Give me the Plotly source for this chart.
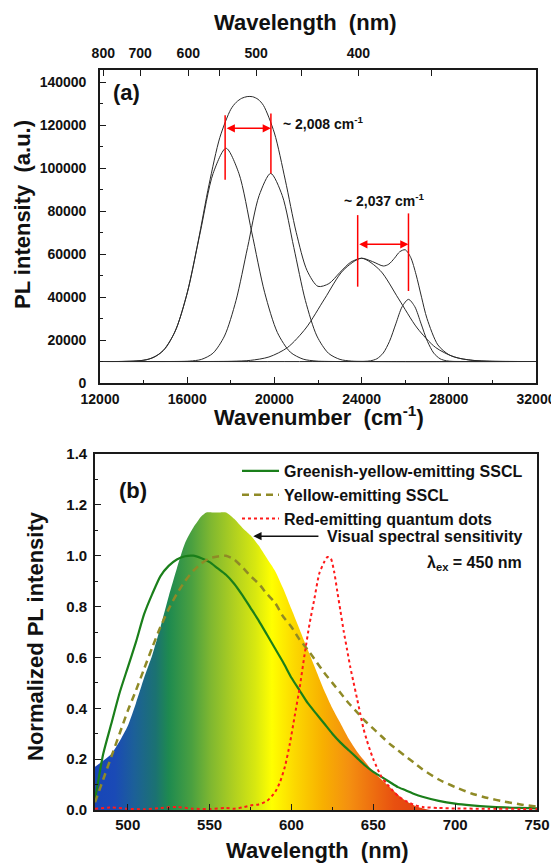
import plotly.graph_objects as go

W, H = 559, 863
OX, OY = 8, 8   # page body margin of the written html
FONT = "Liberation Sans, Arial, sans-serif"

# ---------------- Panel (a): Gaussian components ----------------
comp1_x = [12000, 13060, 13650, 14240, 14830, 15420, 16010, 16600, 17190, 17780, 18370, 18960, 19550, 20140, 20730, 21320, 21910, 22500, 32000]
comp1_y = [10000, 10030, 10220, 11100, 14360, 23420, 42210, 70170, 97540, 109200, 97540, 70170, 42210, 23420, 14360, 11100, 10220, 10030, 10000]
comp2_x = [12000, 15590, 16120, 16650, 17180, 17710, 18240, 18770, 19300, 19830, 20360, 20890, 21420, 21950, 22480, 23010, 23540, 24070, 32000]
comp2_y = [10000, 10030, 10190, 10970, 13840, 21840, 38410, 63070, 87220, 97500, 87220, 63070, 38410, 21840, 13840, 10970, 10190, 10030, 10000]
comp3_x = [12000, 17200, 18050, 18900, 19750, 20600, 21450, 22300, 23150, 24000, 24850, 25700, 26550, 27400, 28250, 29100, 29950, 30800, 32000]
comp3_y = [10000, 10010, 10110, 10530, 12110, 16490, 25590, 39110, 52360, 58000, 52360, 39110, 25590, 16490, 12110, 10530, 10110, 10010, 10000]
comp4_x = [12000, 23830, 24120, 24410, 24700, 24990, 25280, 25570, 25860, 26150, 26440, 26730, 27020, 27310, 27600, 27890, 28180, 28470, 32000]
comp4_y = [10000, 10010, 10060, 10320, 11270, 13910, 19380, 27530, 35500, 38900, 35500, 27530, 19380, 13910, 11270, 10320, 10060, 10010, 10000]
envelope_x = [12000, 13000, 14000, 14500, 15000, 15500, 16000, 16500, 17000, 17500, 18000, 18250, 18500, 18750, 19000,
              19250, 19500, 20000, 20500, 21000, 21500, 22000, 22500, 23000, 23500, 24000, 24500, 25000, 25250, 25500,
              25750, 26000, 26250, 26500, 26750, 27000, 27500, 28000, 28500, 29000, 29500, 30000, 31000, 32000]
envelope_y = [10000, 10030, 10590, 12080, 16180, 25370, 41940, 65710, 92220, 114280, 127300, 130600, 132430, 133230, 133170,
              131960, 129090, 116290, 94370, 70100, 52260, 44950, 46230, 51370, 56190, 58070, 56480, 54420, 55300, 57950,
              61050, 61970, 58460, 50370, 39900, 29980, 17700, 13190, 11450, 10640, 10260, 10100, 10010, 10000]

# red splitting markers (wavenumber positions, y-extents) and labels
split_left_x = [17740, 19840]
split_left_ybot = [94500, 97500]
split_left_ytop = [124600, 125400]
split_left_arrow_y = 118500
split_right_x = [23820, 26150]
split_right_ybot = [44800, 42800]
split_right_ytop = [78100, 78900]
split_right_arrow_y = 64500
split_labels = ["~ 2,008 cm<sup>-1</sup>", "~ 2,037 cm<sup>-1</sup>"]

# top (wavelength) axis tick positions in wavenumber units, as placed in the picture
top_tick_pos = [12150, 13840, 16050, 17500, 19160, 21250, 23850, 27220]
top_tick_text = ["800", "700", "600", "", "500", "", "400", ""]

# ---------------- Panel (b): spectra ----------------
sens_wl = [480, 490, 495, 500, 505, 510, 515, 520, 525, 530, 535, 540, 545, 548, 552, 556, 560, 565, 570, 575, 580, 585,
           590, 595, 600, 605, 610, 615, 620, 625, 630, 635, 640, 645, 650, 655, 660, 665, 670, 675, 680, 685]
sens_val = [0.17, 0.22, 0.27, 0.33, 0.42, 0.52, 0.61, 0.72, 0.84, 0.95, 1.05, 1.11, 1.155, 1.17, 1.17, 1.17, 1.17, 1.145,
            1.11, 1.08, 1.04, 0.99, 0.94, 0.87, 0.79, 0.71, 0.63, 0.55, 0.47, 0.40, 0.34, 0.28, 0.23, 0.19, 0.15, 0.12,
            0.09, 0.06, 0.035, 0.018, 0.007, 0.0]

green_wl = [480, 485, 490, 495, 500, 505, 510, 515, 520, 525, 530, 535, 540, 545, 550, 555, 560, 565, 570, 575, 580, 585,
            590, 595, 600, 605, 610, 615, 620, 625, 630, 635, 640, 645, 650, 655, 660, 665, 670, 675, 680, 690, 700, 710,
            720, 730, 740, 750]
green_val = [0.04, 0.22, 0.34, 0.46, 0.56, 0.66, 0.77, 0.85, 0.92, 0.96, 0.985, 0.998, 1.0, 0.99, 0.975, 0.95, 0.925,
             0.89, 0.845, 0.795, 0.745, 0.69, 0.635, 0.58, 0.52, 0.47, 0.42, 0.38, 0.34, 0.30, 0.265, 0.235, 0.205,
             0.175, 0.15, 0.13, 0.11, 0.09, 0.077, 0.063, 0.052, 0.036, 0.025, 0.018, 0.013, 0.01, 0.008, 0.006]

yellow_wl = [480, 485, 490, 495, 500, 505, 510, 515, 520, 525, 530, 535, 540, 545, 550, 555, 560, 565, 570, 575, 580, 585,
             590, 595, 600, 605, 610, 615, 620, 625, 630, 635, 640, 645, 650, 655, 660, 665, 670, 675, 680, 690, 700, 710,
             720, 730, 740, 750]
yellow_val = [0.03, 0.12, 0.21, 0.30, 0.39, 0.47, 0.555, 0.64, 0.72, 0.79, 0.85, 0.90, 0.94, 0.97, 0.99, 0.997, 1.0,
              0.985, 0.955, 0.92, 0.89, 0.85, 0.815, 0.76, 0.72, 0.67, 0.63, 0.585, 0.54, 0.50, 0.46, 0.42, 0.385, 0.35,
              0.32, 0.29, 0.26, 0.235, 0.21, 0.185, 0.16, 0.12, 0.09, 0.065, 0.047, 0.033, 0.022, 0.013]

red_wl = [480, 490, 500, 510, 520, 530, 540, 550, 560, 565, 570, 575, 580, 585, 590, 593, 596, 599, 602, 605, 608, 611,
          614, 617, 620, 622, 624, 626, 628, 630, 632, 634, 636, 638, 640, 642, 644, 646, 648, 650, 652, 655, 658, 662,
          666, 670, 675, 680, 690, 700, 720, 750]
red_val = [0.005, 0.01, 0.005, 0.003, 0.008, 0.012, 0.005, 0.004, 0.008, 0.005, 0.01, 0.018, 0.022, 0.035, 0.07, 0.11,
           0.17, 0.26, 0.37, 0.48, 0.61, 0.73, 0.83, 0.93, 0.975, 0.995, 0.99, 0.94, 0.86, 0.78, 0.70, 0.63, 0.56, 0.50,
           0.44, 0.38, 0.32, 0.275, 0.235, 0.20, 0.17, 0.13, 0.105, 0.075, 0.05, 0.035, 0.02, 0.012, 0.008, 0.006,
           0.005, 0.004]

series_names = ["Greenish-yellow-emitting SSCL", "Yellow-emitting SSCL", "Red-emitting quantum dots"]

# colours of the visual-sensitivity gradient (wavelength, colour)
grad_wl = [480, 492, 504, 517, 525, 539, 551, 565, 578, 588, 602, 619, 635, 649, 663, 685]
grad_col = ["#1846b8", "#1a4ab6", "#1c6098", "#1b7272", "#1e8a50", "#4aa040", "#80b830", "#b0d020", "#d8e810",
            "#ffff00", "#fcd800", "#f8b000", "#f49010", "#ee7010", "#e85010", "#e03a10"]

# ---------------- helpers for pixel-based layout (window pixels -> paper) ----------------
def px(x):
    return (x - OX) / W

def py(y):
    return 1 - (y - OY) / H

fig = go.Figure()

# panel (a) curves
for cx, cy in [(comp1_x, comp1_y), (comp2_x, comp2_y), (comp3_x, comp3_y), (comp4_x, comp4_y), (envelope_x, envelope_y)]:
    fig.add_trace(go.Scatter(x=cx, y=cy, mode="lines", xaxis="x", yaxis="y",
                             line=dict(color="#2a2a2a", width=1, shape="spline", smoothing=0.8),
                             showlegend=False, hoverinfo="skip"))
# invisible trace to carry the top wavelength axis
fig.add_trace(go.Scatter(x=[12000, 32000], y=[0, 0], mode="lines", xaxis="x3", yaxis="y",
                         line=dict(color="rgba(0,0,0,0)", width=0), showlegend=False, hoverinfo="skip"))

# panel (b)
g0, g1 = grad_wl[0], grad_wl[-1]
colorscale = [[(w - g0) / (g1 - g0), c] for w, c in zip(grad_wl, grad_col)]
fig.add_trace(go.Scatter(x=sens_wl, y=sens_val, mode="lines", xaxis="x2", yaxis="y2",
                         line=dict(width=0, color="rgba(0,0,0,0)", shape="spline", smoothing=0.6),
                         fill="tozeroy",
                         fillgradient=dict(type="horizontal", start=g0, stop=g1, colorscale=colorscale),
                         showlegend=False, hoverinfo="skip"))
fig.add_trace(go.Scatter(x=green_wl, y=green_val, mode="lines", xaxis="x2", yaxis="y2", name=series_names[0],
                         line=dict(color="#1a7f1a", width=2.2, shape="spline", smoothing=0.6)))
fig.add_trace(go.Scatter(x=yellow_wl, y=yellow_val, mode="lines", xaxis="x2", yaxis="y2", name=series_names[1],
                         line=dict(color="#8f8a26", width=2.5, dash="7px,5px", shape="spline", smoothing=0.6)))
fig.add_trace(go.Scatter(x=red_wl, y=red_val, mode="lines", xaxis="x2", yaxis="y2", name=series_names[2],
                         line=dict(color="#ff1a1a", width=2, dash="dot", shape="spline", smoothing=0.6)))

axis_common = dict(showline=True, linecolor="#1a1a1a", linewidth=1.6, mirror=True, ticks="inside",
                   tickcolor="#1a1a1a", tickwidth=1.4, showgrid=False, zeroline=False, automargin=False)

shapes = []
annotations = []

# red split markers
for xs, yb, yt, yarr, lab, lx, ly, anchor in [
        (split_left_x, split_left_ybot, split_left_ytop, split_left_arrow_y, split_labels[0], 20300, 121000, "left"),
        (split_right_x, split_right_ybot, split_right_ytop, split_right_arrow_y, split_labels[1], 25030, 85100, "center")]:
    for xv, b, t in zip(xs, yb, yt):
        shapes.append(dict(type="line", xref="x", yref="y", x0=xv, x1=xv, y0=b, y1=t,
                           line=dict(color="#ff0000", width=1.5)))
    annotations.append(dict(x=xs[1], y=yarr, ax=xs[0], ay=yarr, xref="x", yref="y", axref="x", ayref="y",
                            text="", showarrow=True, arrowside="end+start", arrowhead=2, startarrowhead=2,
                            arrowsize=1.1, startarrowsize=1.1, arrowwidth=1.5, arrowcolor="#ff0000"))
    annotations.append(dict(x=lx, y=ly, xref="x", yref="y", text=lab, showarrow=False, xanchor=anchor,
                            yanchor="middle", font=dict(family=FONT, size=14, color="#111", weight="bold")))

# panel labels
annotations.append(dict(x=px(111), y=py(92), xref="paper", yref="paper", text="(a)", showarrow=False,
                        xanchor="left", yanchor="middle", font=dict(family=FONT, size=22, color="#111", weight="bold")))
annotations.append(dict(x=px(117), y=py(490), xref="paper", yref="paper", text="(b)", showarrow=False,
                        xanchor="left", yanchor="middle", font=dict(family=FONT, size=22, color="#111", weight="bold")))

# axis titles
title_font = dict(family=FONT, size=22, color="#111", weight="bold")
annotations += [
    dict(x=px(305), y=py(22), xref="paper", yref="paper", text="Wavelength  (nm)", showarrow=False,
         xanchor="center", yanchor="middle", font=title_font),
    dict(x=px(319), y=py(416), xref="paper", yref="paper", text="Wavenumber  (cm<sup>-1</sup>)", showarrow=False,
         xanchor="center", yanchor="middle", font=title_font),
    dict(x=px(23), y=py(215), xref="paper", yref="paper", text="PL intensity  (a.u.)", showarrow=False,
         textangle=-90, xanchor="center", yanchor="middle", font=title_font),
    dict(x=px(35), y=py(636), xref="paper", yref="paper", text="Normalized PL intensity", showarrow=False,
         textangle=-90, xanchor="center", yanchor="middle", font=title_font),
    dict(x=px(317), y=py(850), xref="paper", yref="paper", text="Wavelength  (nm)", showarrow=False,
         xanchor="center", yanchor="middle", font=title_font),
]

# visual sensitivity pointer + excitation note
annotations.append(dict(x=576.7, y=1.077, xref="x2", yref="y2", ax=617.4, ay=1.077, axref="x2", ayref="y2",
                        text="", showarrow=True, arrowhead=2, arrowsize=1.1, arrowwidth=1.5, arrowcolor="#111"))
annotations.append(dict(x=620.5, y=1.077, xref="x2", yref="y2", text="Visual spectral sensitivity", showarrow=False,
                        xanchor="left", yanchor="middle",
                        font=dict(family=FONT, size=16, color="#111", weight="bold")))
annotations.append(dict(x=px(425), y=py(563), xref="paper", yref="paper",
                        text="λ<sub>ex</sub> = 450 nm", showarrow=False, xanchor="left", yanchor="middle",
                        font=dict(family=FONT, size=16, color="#111", weight="bold")))

fig.update_layout(
    width=W, height=H, margin=dict(l=0, r=0, t=0, b=0, autoexpand=False),
    paper_bgcolor="white", plot_bgcolor="white",
    font=dict(family=FONT, color="#111", weight="bold"),
    xaxis=dict(domain=[px(100), px(536)], anchor="y", range=[12000, 32000], tickvals=list(range(12000, 32001, 4000)),
               tickformat="d",
               minor=dict(dtick=2000, ticks="inside", ticklen=3, tickcolor="#1a1a1a"), ticklen=6,
               tickfont=dict(family=FONT, size=14, weight="bold", color="#111"), ticklabelstandoff=2,
               **axis_common),
    xaxis3=dict(overlaying="x", side="top", anchor="y", range=[12000, 32000], tickvals=top_tick_pos,
                ticktext=top_tick_text, ticks="inside", ticklen=6, tickcolor="#1a1a1a", tickwidth=1.4,
                showline=False, showgrid=False, zeroline=False, ticklabelstandoff=8, automargin=False,
                tickfont=dict(family=FONT, size=14, weight="bold", color="#111")),
    yaxis=dict(domain=[py(383), py(70)], anchor="x", range=[0, 145600], tickvals=list(range(0, 140001, 20000)),
               tickformat="d", minor=dict(dtick=10000, ticks="inside", ticklen=3, tickcolor="#1a1a1a"), ticklen=6,
               tickfont=dict(family=FONT, size=14, weight="bold", color="#111"), ticklabelstandoff=9,
               **axis_common),
    xaxis2=dict(domain=[px(95), px(537)], anchor="y2", range=[480, 750], tickvals=list(range(500, 751, 50)),
                minor=dict(dtick=25, ticks="inside", ticklen=3, tickcolor="#1a1a1a"), ticklen=6,
                tickfont=dict(family=FONT, size=15, weight="bold", color="#111"), ticklabelstandoff=0,
                **axis_common),
    yaxis2=dict(domain=[py(810), py(454)], anchor="x2", range=[0, 1.4], tickvals=[0, 0.2, 0.4, 0.6, 0.8, 1.0, 1.2, 1.4],
                tickformat=".1f", minor=dict(dtick=0.1, ticks="inside", ticklen=3, tickcolor="#1a1a1a"), ticklen=6,
                tickfont=dict(family=FONT, size=15, weight="bold", color="#111"), ticklabelstandoff=3,
                **axis_common),
    legend=dict(x=px(237), y=py(454), xanchor="left", yanchor="top", bgcolor="rgba(0,0,0,0)",
                font=dict(family=FONT, size=16, color="#111", weight="bold"), tracegroupgap=0,
                itemwidth=37),
    shapes=shapes, annotations=annotations,
)

fig.write_html("out.html", default_width=f"{W}px", default_height=f"{H}px")
